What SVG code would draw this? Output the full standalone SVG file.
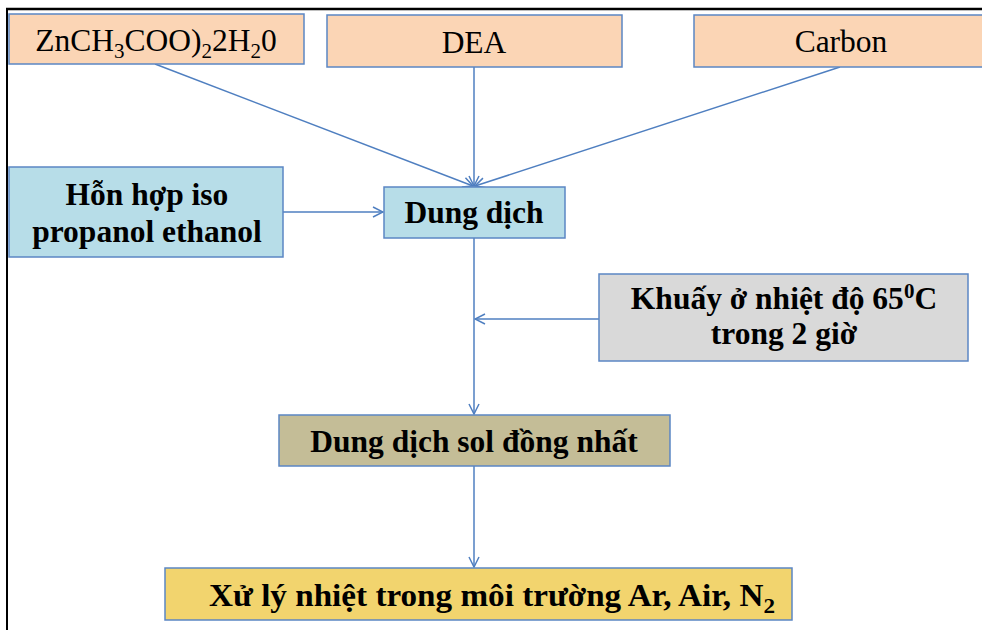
<svg xmlns="http://www.w3.org/2000/svg" width="982" height="630" viewBox="0 0 982 630">
<defs>
<style>
.box{stroke:#5b86c4;stroke-width:1.5}
.n{font-family:"Liberation Serif","Times New Roman",serif;font-size:31.5px;fill:#000;text-anchor:middle}
.b{font-family:"Liberation Serif","Times New Roman",serif;font-size:31.5px;font-weight:bold;fill:#000;text-anchor:middle}
.c{stroke:#4f7fc0;stroke-width:1.5;fill:none}
</style>
<marker id="ah" viewBox="0 0 12 12" refX="11" refY="6" markerWidth="12" markerHeight="12" markerUnits="userSpaceOnUse" orient="auto">
<path d="M1,1 L11,6 L1,11" fill="none" stroke="#4f7fc0" stroke-width="1.5"/>
</marker>
</defs>
<rect width="982" height="630" fill="#fff"/>
<g id="frame">
<line x1="6" y1="9" x2="982" y2="9" stroke="#000" stroke-width="2.5"/>
<line x1="7" y1="8" x2="7" y2="630" stroke="#000" stroke-width="2"/>
</g>
<g id="connectors">
<line class="c" x1="155" y1="64" x2="473" y2="186" marker-end="url(#ah)"/>
<line class="c" x1="474" y1="67" x2="474" y2="186" marker-end="url(#ah)"/>
<line class="c" x1="840" y1="67" x2="475" y2="186" marker-end="url(#ah)"/>
<line class="c" x1="283" y1="212" x2="383" y2="212" marker-end="url(#ah)"/>
<line class="c" x1="474" y1="238" x2="474" y2="414" marker-end="url(#ah)"/>
<line class="c" x1="599" y1="319" x2="475" y2="319" marker-end="url(#ah)"/>
<line class="c" x1="474" y1="466" x2="474" y2="567" marker-end="url(#ah)"/>
</g>
<g id="zn">
<rect class="box" x="9" y="14" width="295" height="50" fill="#fbd5b5"/>
<text class="n" x="156" y="51">ZnCH<tspan font-size="21" dy="7">3</tspan><tspan dy="-7">COO)</tspan><tspan font-size="21" dy="7">2</tspan><tspan dy="-7">2H</tspan><tspan font-size="21" dy="7">2</tspan><tspan dy="-7">0</tspan></text>
</g>
<g id="dea">
<rect class="box" x="327" y="15" width="295" height="52" fill="#fbd5b5"/>
<text class="n" x="474" y="53">DEA</text>
</g>
<g id="carbon">
<rect class="box" x="694" y="15" width="300" height="52" fill="#fbd5b5"/>
<text class="n" x="841" y="52">Carbon</text>
</g>
<g id="hon">
<rect class="box" x="9" y="167" width="274" height="90" fill="#b7dde8"/>
<text class="b" x="147" y="205">Hỗn hợp iso</text>
<text class="b" x="147" y="242">propanol ethanol</text>
</g>
<g id="dungdich">
<rect class="box" x="384" y="187" width="181" height="51" fill="#b7dde8"/>
<text class="b" x="474" y="223">Dung dịch</text>
</g>
<g id="khuay">
<rect class="box" x="599" y="274" width="369" height="87" fill="#d9d9d9"/>
<text class="b" x="784" y="309">Khuấy ở nhiệt độ 65<tspan font-size="21" dy="-11">0</tspan><tspan dy="11">C</tspan></text>
<text class="b" x="784" y="344">trong 2 giờ</text>
</g>
<g id="sol">
<rect class="box" x="279" y="415" width="391" height="51" fill="#c4bd97"/>
<text class="b" x="474" y="452">Dung dịch sol đồng nhất</text>
</g>
<g id="xuly">
<rect class="box" x="165" y="568" width="627" height="52" fill="#f2d46e"/>
<text class="b" x="492" y="606" font-size="33" textLength="566" lengthAdjust="spacingAndGlyphs">Xử lý nhiệt trong môi trường Ar, Air, N<tspan font-size="22" dy="7">2</tspan></text>
</g>
</svg>
